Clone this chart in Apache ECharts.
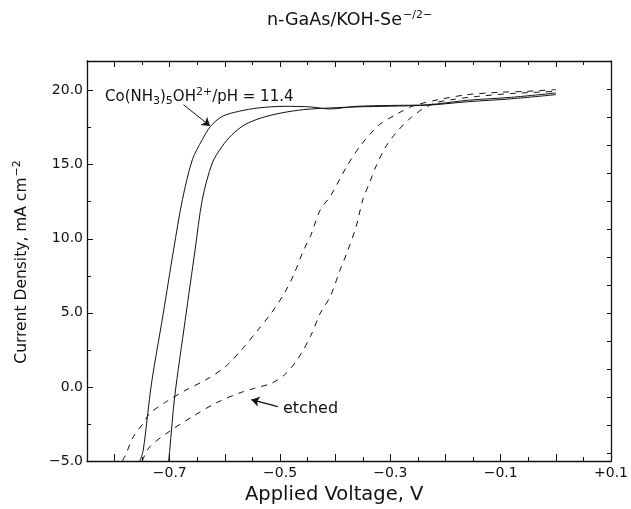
<!DOCTYPE html>
<html>
<head>
<meta charset="utf-8">
<script src="https://cdn.jsdelivr.net/npm/echarts@6/dist/echarts.min.js"></script>
<style>html,body{margin:0;padding:0;background:#fff;}#c{width:631px;height:509px;}</style>
</head>
<body>
<div id="c"></div>
<script>
// ---- data ----
const titleText = 'n-GaAs/KOH-Se';
const xTickLabels = [-0.7, -0.5, -0.3, -0.1, 0.1];
const xMajorTicks = [-0.8, -0.7, -0.6, -0.5, -0.4, -0.3, -0.2, -0.1, 0.0, 0.1];
const xMinorTicks = [-0.75, -0.65, -0.55, -0.45, -0.35, -0.25, -0.15, -0.05, 0.05];
const yTickLabels = [-5, 0, 5, 10, 15, 20];
const yMinorTicks = [-2.5, 2.5, 7.5, 12.5, 17.5];

// Co(NH3)5OH2+ scans (solid)
const cobaltScan1V = [-0.754, -0.748, -0.733, -0.712, -0.693, -0.677, -0.659, -0.641, -0.626, -0.605, -0.575, -0.540, -0.492, -0.445, -0.410, -0.362, -0.300, -0.231, -0.160, -0.080, 0.000];
const cobaltScan1J = [-5.0, -4.26, 0.25, 4.9, 9.26, 12.64, 15.34, 16.69, 17.59, 18.26, 18.60, 18.83, 18.94, 18.90, 18.76, 18.94, 19.00, 19.05, 19.35, 19.55, 19.84];
const cobaltScan2V = [-0.702, -0.700, -0.691, -0.672, -0.654, -0.641, -0.623, -0.605, -0.587, -0.564, -0.534, -0.498, -0.457, -0.409, -0.362, -0.300, -0.231, -0.160, -0.080, 0.000];
const cobaltScan2J = [-5.0, -4.26, -0.66, 4.5, 9.26, 12.64, 15.11, 16.24, 17.03, 17.70, 18.16, 18.49, 18.72, 18.83, 18.90, 18.95, 19.02, 19.25, 19.45, 19.73];

// etched electrode scans (dashed)
const etchedScan1V = [-0.786, -0.780, -0.766, -0.748, -0.736, -0.706, -0.670, -0.635, -0.599, -0.570, -0.540, -0.516, -0.492, -0.474, -0.457, -0.445, -0.427, -0.409, -0.379, -0.353, -0.320, -0.290, -0.261, -0.213, -0.160, -0.100, -0.053, 0.000];
const etchedScan1J = [-5.0, -4.59, -3.36, -2.45, -1.78, -0.99, -0.20, 0.47, 1.37, 2.50, 3.85, 4.98, 6.33, 7.68, 9.26, 10.16, 11.96, 12.86, 14.89, 16.35, 17.70, 18.38, 18.94, 19.39, 19.73, 19.89, 19.95, 20.07];
const etchedScan2V = [-0.750, -0.736, -0.697, -0.659, -0.617, -0.575, -0.546, -0.516, -0.492, -0.469, -0.445, -0.427, -0.409, -0.391, -0.379, -0.362, -0.350, -0.338, -0.326, -0.308, -0.290, -0.267, -0.243, -0.219, -0.189, -0.142, -0.082, 0.000];
const etchedScan2J = [-5.0, -4.03, -2.91, -2.01, -1.10, -0.43, -0.09, 0.24, 0.81, 1.82, 3.40, 4.98, 6.10, 7.91, 9.03, 10.83, 12.64, 13.76, 14.89, 16.24, 17.14, 18.04, 18.72, 19.17, 19.39, 19.61, 19.80, 19.95];

const xMin = -0.85, xMax = 0.1, yMin = -5, yMax = 22;

function pairs(xs, ys) { return xs.map((x, i) => [x, ys[i]]); }
function fmtX(v) {
  const s = Math.abs(v).toFixed(1);
  return (v > 0 ? '+' : (v < 0 ? '\u2212' : '')) + s;
}
function fmtY(v) { return (v < 0 ? '\u2212' : '') + Math.abs(v).toFixed(1); }

const FONT = '"DejaVu Sans", Verdana, sans-serif';
const INK = '#111';

const chart = echarts.init(document.getElementById('c'), null, { renderer: 'canvas' });

const axisLineOn = { show: true, onZero: false, lineStyle: { color: INK, width: 1.3 } };
const axisLineOff = { show: false, onZero: false };

const option = {
  backgroundColor: '#fff',
  animation: false,
  grid: { left: 87, right: 12, top: 61, bottom: 48, containLabel: false },
  xAxis: [
    { type: 'value', position: 'bottom', min: xMin, max: xMax,
      axisLine: axisLineOn, splitLine: { show: false },
      axisTick: { show: true, inside: true, length: 7, customValues: xMajorTicks, lineStyle: { color: INK } },
      axisLabel: { show: true, customValues: xTickLabels, formatter: fmtX, color: INK, fontFamily: FONT, fontSize: 14, margin: 5 } },
    { type: 'value', position: 'bottom', min: xMin, max: xMax,
      axisLine: axisLineOff, splitLine: { show: false },
      axisTick: { show: true, inside: true, length: 4, customValues: xMinorTicks, lineStyle: { color: INK } },
      axisLabel: { show: false } },
    { type: 'value', position: 'top', min: xMin, max: xMax,
      axisLine: axisLineOn, splitLine: { show: false },
      axisTick: { show: true, inside: true, length: 6, customValues: xMajorTicks, lineStyle: { color: INK } },
      axisLabel: { show: false } },
    { type: 'value', position: 'top', min: xMin, max: xMax,
      axisLine: axisLineOff, splitLine: { show: false },
      axisTick: { show: true, inside: true, length: 4, customValues: xMinorTicks, lineStyle: { color: INK } },
      axisLabel: { show: false } }
  ],
  yAxis: [
    { type: 'value', position: 'left', min: yMin, max: yMax,
      axisLine: axisLineOn, splitLine: { show: false },
      axisTick: { show: true, inside: true, length: 6, customValues: yTickLabels, lineStyle: { color: INK } },
      axisLabel: { show: true, customValues: yTickLabels, formatter: fmtY, color: INK, fontFamily: FONT, fontSize: 14, margin: 4 } },
    { type: 'value', position: 'left', min: yMin, max: yMax,
      axisLine: axisLineOff, splitLine: { show: false },
      axisTick: { show: true, inside: true, length: 4, customValues: yMinorTicks, lineStyle: { color: INK } },
      axisLabel: { show: false } },
    { type: 'value', position: 'right', inverse: true, min: 0, max: 400 / 28, interval: 1,
      axisLine: axisLineOn, splitLine: { show: false },
      axisTick: { show: true, inside: true, length: 4, lineStyle: { color: INK } },
      axisLabel: { show: false } }
  ],
  series: [
    { type: 'line', name: 'Co scan 1', data: pairs(cobaltScan1V, cobaltScan1J), showSymbol: false, smooth: 0.3,
      lineStyle: { color: INK, width: 1, type: 'solid' }, clip: true,
      markLine: { silent: true, symbol: ['none', 'arrow'], symbolSize: 8, label: { show: false },
        lineStyle: { color: INK, width: 1, type: 'solid' },
        data: [[{ coord: [-0.675, 19.05] }, { coord: [-0.627, 17.62] }]] } },
    { type: 'line', name: 'Co scan 2', data: pairs(cobaltScan2V, cobaltScan2J), showSymbol: false, smooth: 0.3,
      lineStyle: { color: INK, width: 1, type: 'solid' }, clip: true },
    { type: 'line', name: 'etched scan 1', data: pairs(etchedScan1V, etchedScan1J), showSymbol: false, smooth: 0.3,
      lineStyle: { color: INK, width: 1, type: [6, 6] }, clip: true },
    { type: 'line', name: 'etched scan 2', data: pairs(etchedScan2V, etchedScan2J), showSymbol: false, smooth: 0.3,
      lineStyle: { color: INK, width: 1, type: [6, 6] }, clip: true,
      markLine: { silent: true, symbol: ['none', 'arrow'], symbolSize: 8, label: { show: false },
        lineStyle: { color: INK, width: 1.2, type: 'solid' },
        data: [[{ coord: [-0.504, -1.33] }, { coord: [-0.552, -0.86] }]] } }
  ],
  graphic: [
    { type: 'text', left: 267, top: 10, style: {
        text: '{n|' + titleText + '}{p|\u2212/2\u2212}',
        rich: { n: { fontFamily: FONT, fontSize: 17.5, fill: INK }, p: { fontFamily: FONT, fontSize: 11, fill: INK, padding: [0, 0, 10, 1] } } } },
    { type: 'text', left: 245, top: 485, style: {
        text: 'Applied Voltage, V', fontFamily: FONT, fontSize: 19.5, fill: INK } },
    { type: 'text', x: 22, y: 262, rotation: Math.PI / 2, style: {
        text: '{n|Current Density, mA cm}{p|\u22122}', align: 'center', verticalAlign: 'middle',
        rich: { n: { fontFamily: FONT, fontSize: 15.5, fill: INK }, p: { fontFamily: FONT, fontSize: 11, fill: INK, padding: [0, 0, 10, 1] } } } },
    { type: 'text', left: 105, top: 87, style: {
        text: '{n|Co(NH}{s|3}{n|)}{s|5}{n|OH}{p|2+}{n|/pH = 11.4}',
        rich: { n: { fontFamily: FONT, fontSize: 15, fill: INK }, s: { fontFamily: FONT, fontSize: 11, fill: INK, padding: [9, 0, 0, 0] }, p: { fontFamily: FONT, fontSize: 11, fill: INK, padding: [0, 0, 9, 0] } } } },
    { type: 'text', left: 283, top: 401, style: {
        text: 'etched', fontFamily: FONT, fontSize: 16, fill: INK } }
  ]
};
chart.setOption(option);
</script>
</body>
</html>
